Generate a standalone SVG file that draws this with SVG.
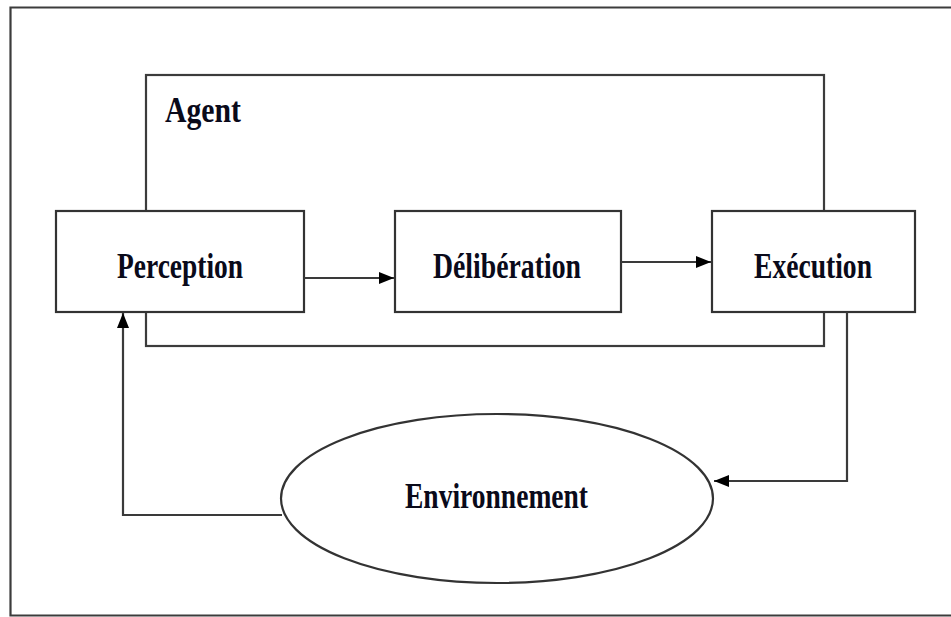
<svg xmlns="http://www.w3.org/2000/svg" width="951" height="617" viewBox="0 0 951 617">
  <style>
    .frame { fill: none; stroke: #3c3c3c; stroke-width: 2.2; }
    .box { fill: #ffffff; stroke: #333333; stroke-width: 2.2; }
    .edge { fill: none; stroke: #3a3a3a; stroke-width: 2.2; }
    .label { font-family: "Liberation Serif", "Times New Roman", serif; font-weight: bold; font-size: 35px; fill: #0a0a1a; }
  </style>
  <defs>
    <marker id="arrow" markerUnits="userSpaceOnUse" markerWidth="16" markerHeight="16" viewBox="0 0 16 16" refX="15" refY="8" orient="auto">
      <path d="M0,2 L15,8 L0,14 Z" fill="#000000"/>
    </marker>
  </defs>

  <rect width="951" height="617" fill="#ffffff"/>

  <!-- outer frame (runs off the right edge) -->
  <path class="frame" d="M960,7.5 L10.5,7.5 L10.5,615.5 L960,615.5"/>

  <!-- agent boundary -->
  <g id="agent">
    <rect class="frame" x="146" y="75" width="678" height="271"/>
    <text class="label" x="165" y="122" textLength="76" lengthAdjust="spacingAndGlyphs">Agent</text>
  </g>

  <g id="perception">
    <rect class="box" x="56" y="211" width="248" height="101"/>
    <text class="label" x="117" y="278" textLength="126" lengthAdjust="spacingAndGlyphs">Perception</text>
  </g>

  <g id="deliberation">
    <rect class="box" x="395" y="211" width="226" height="101"/>
    <text class="label" x="433" y="278" textLength="148" lengthAdjust="spacingAndGlyphs">Délibération</text>
  </g>

  <g id="execution">
    <rect class="box" x="712" y="211" width="203" height="101"/>
    <text class="label" x="754" y="278" textLength="118" lengthAdjust="spacingAndGlyphs">Exécution</text>
  </g>

  <g id="environnement">
    <ellipse class="box" cx="497" cy="498.5" rx="216" ry="84.5"/>
    <text class="label" x="405" y="508" textLength="183" lengthAdjust="spacingAndGlyphs">Environnement</text>
  </g>

  <!-- connectors -->
  <g id="connectors">
    <path class="edge" d="M304,278 L394,278" marker-end="url(#arrow)"/>
    <path class="edge" d="M621,262 L711,262" marker-end="url(#arrow)"/>
    <path class="edge" d="M847,312 L847,481 L714,481" marker-end="url(#arrow)"/>
    <path class="edge" d="M282,515 L123,515 L123,313" marker-end="url(#arrow)"/>
  </g>
</svg>
